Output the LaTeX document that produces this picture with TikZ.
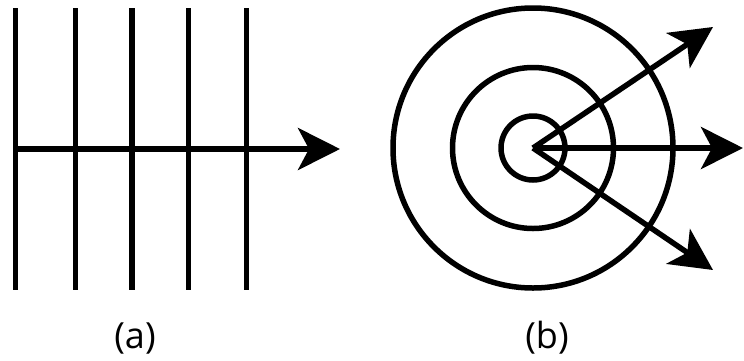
\documentclass[tikz,border=0pt]{standalone}
\usepackage{fontspec}
\setmainfont{Open Sans}
\usetikzlibrary{arrows.meta}
\begin{document}
\begin{tikzpicture}[x=1pt,y=-1pt,
  stroke/.style={line width=5.5pt,black},
  arr/.style={stroke,-{Stealth[length=42pt,width=42pt,inset=11pt]}},
  lbl/.style={anchor=base,inner sep=0pt,font=\fontsize{36}{40}\selectfont}]
\useasboundingbox (0,0) rectangle (744,360);
% panel (a)
\foreach \x in {15.5,75.3,132,188.7,246.7}
  \draw[stroke] (\x,8) -- (\x,290);
\coordinate (aStart) at (13,149);
\coordinate (aEnd) at (340,149);
\draw[arr] (aStart) -- (aEnd);
\node[lbl] (la) at (135,348) {(a)};
% panel (b)
\coordinate (c) at (533,148);
\foreach \r in {32,80.5,140}
  \draw[stroke] (c) circle[radius=\r];
\coordinate (e1) at (713,27);
\coordinate (e2) at (743,148);
\coordinate (e3) at (713,270);
\draw[arr] (c) -- (e1);
\draw[arr] (c) -- (e2);
\draw[arr] (c) -- (e3);
\node[lbl] (lb) at (547,348) {(b)};
\end{tikzpicture}
\end{document}
